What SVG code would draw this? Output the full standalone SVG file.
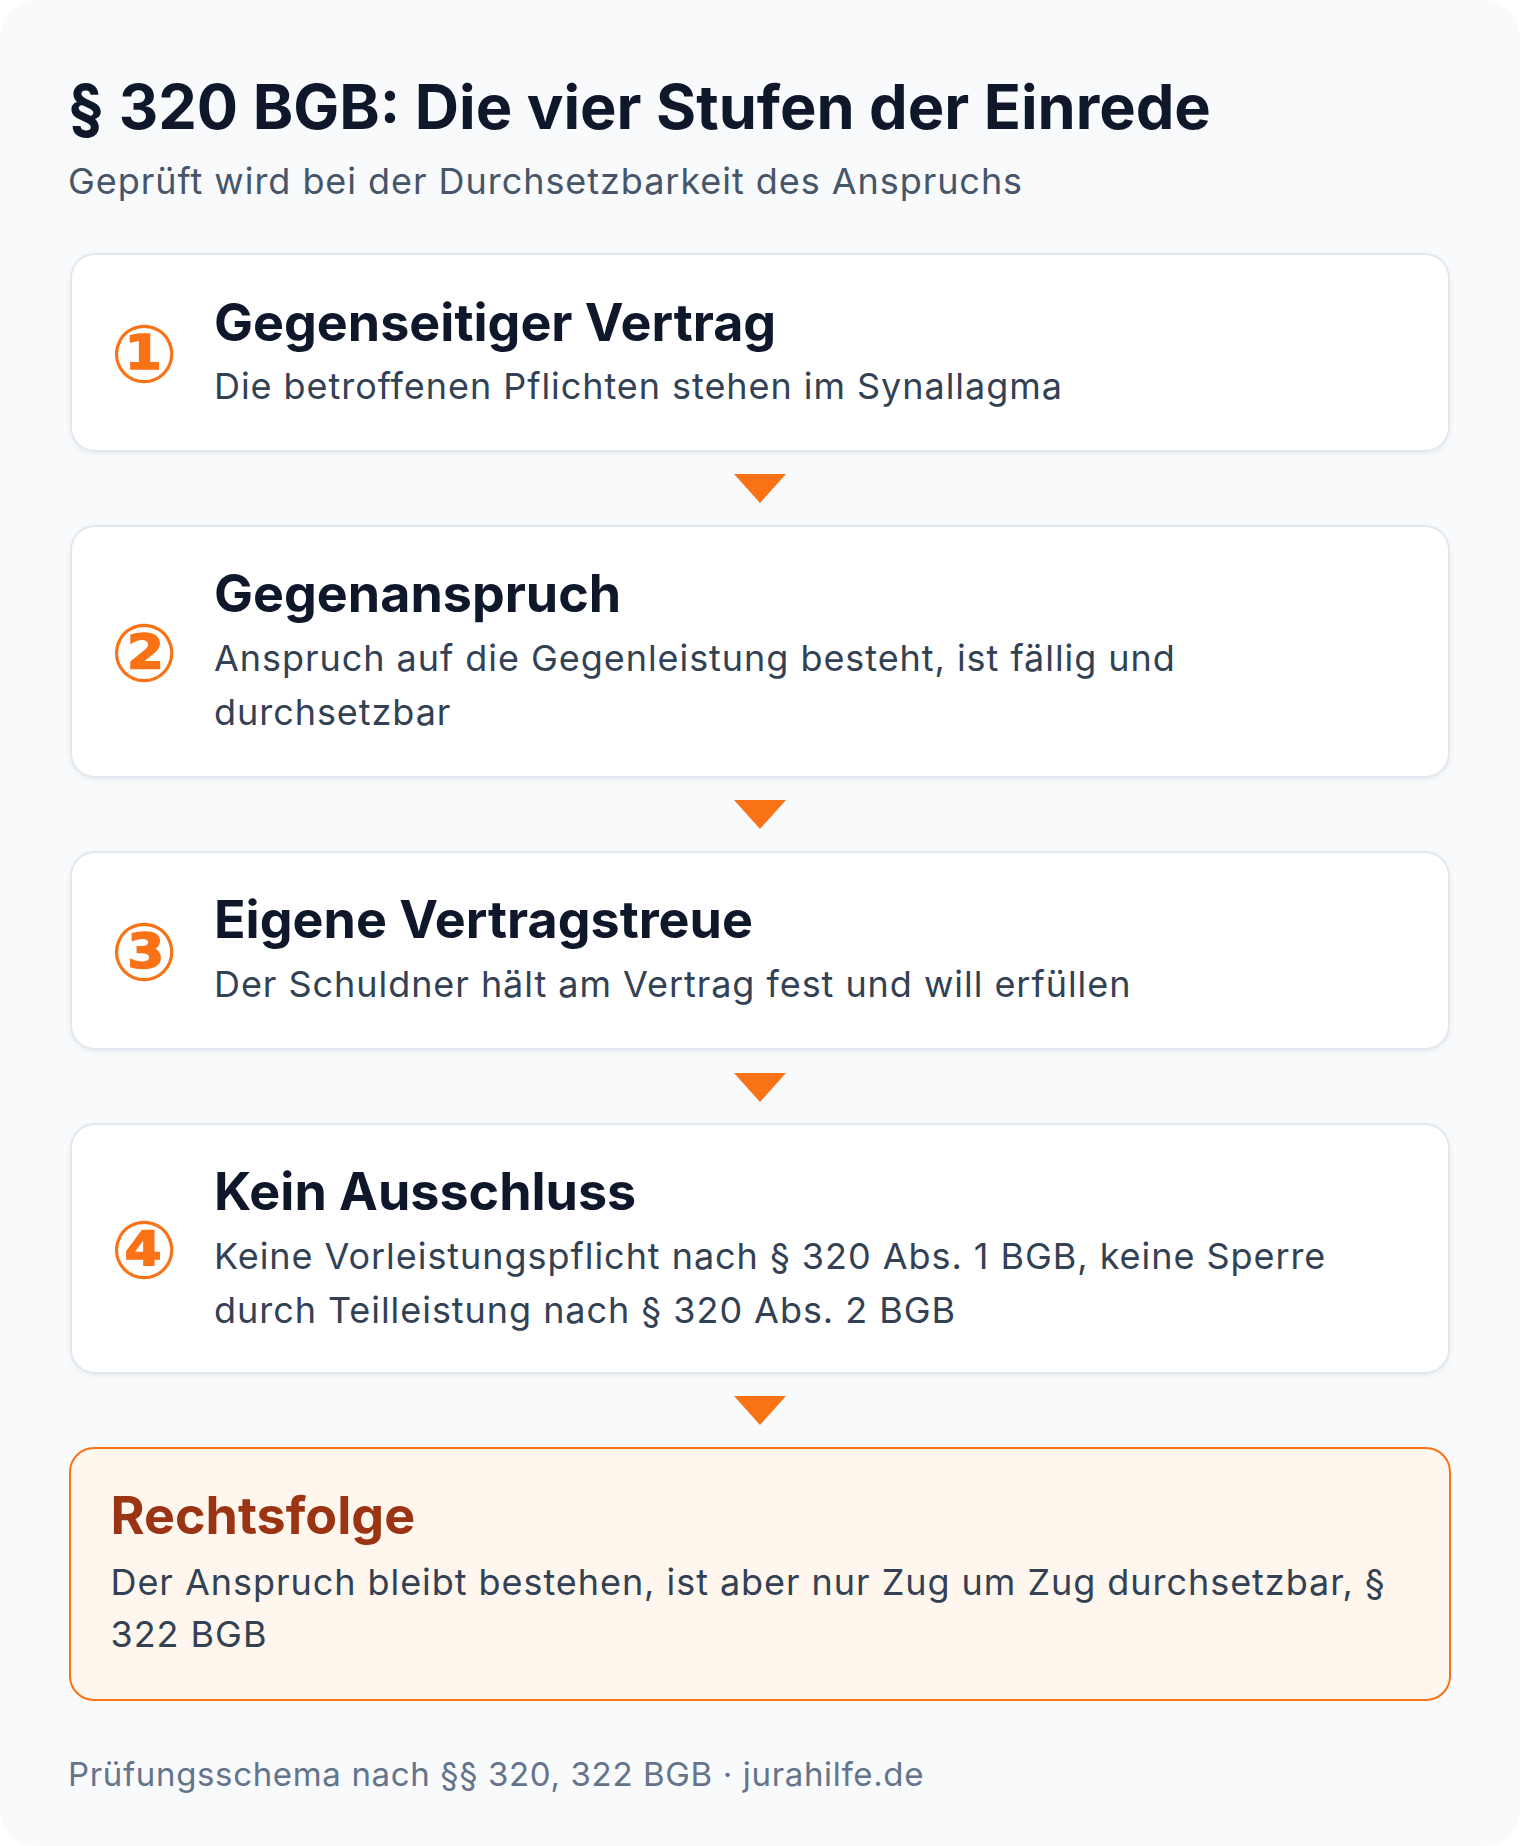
<svg xmlns="http://www.w3.org/2000/svg" width="1520" height="1846" viewBox="0 0 1520 1846">
  <style>
    .h1 { font-family: Inter, "Liberation Sans", sans-serif; font-weight: 700; font-size: 61.3px; fill: #0f172a; }
    .sub { font-family: Inter, "Liberation Sans", sans-serif; font-weight: 400; font-size: 36px; fill: #475569; letter-spacing: 0.95px; }
    .card { fill: #ffffff; stroke: #e2e8f0; stroke-width: 2; }
    .res { fill: #fff7ed; stroke: #f97316; stroke-width: 2; }
    .num { font-family: "DejaVu Sans", sans-serif; font-weight: 700; font-size: 80px; fill: #f97316; text-anchor: middle; }
    .t { font-family: Inter, "Liberation Sans", sans-serif; font-weight: 700; font-size: 52px; fill: #0f172a; }
    .rt { font-family: Inter, "Liberation Sans", sans-serif; font-weight: 700; font-size: 52px; fill: #9a3412; }
    .d { font-family: Inter, "Liberation Sans", sans-serif; font-weight: 400; font-size: 36px; fill: #334155; letter-spacing: 0.95px; }
    .foot { font-family: Inter, "Liberation Sans", sans-serif; font-weight: 400; font-size: 33px; fill: #64748b; letter-spacing: 0.65px; }
    .arrow { fill: #f97316; }
  </style>
  <defs>
    <filter id="sh" x="-5%" y="-20%" width="110%" height="140%">
      <feDropShadow dx="0" dy="2" stdDeviation="2" flood-color="#0f172a" flood-opacity="0.06"/>
    </filter>
  </defs>
  <rect x="0" y="0" width="1520" height="1846" fill="#ffffff"/>
  <rect x="0" y="0" width="1520" height="1846" rx="36" fill="#f8fafc"/>

  <g id="header">
    <text class="h1" x="68" y="129">§ 320 BGB: Die vier Stufen der Einrede</text>
    <text class="sub" x="68" y="194">Geprüft wird bei der Durchsetzbarkeit des Anspruchs</text>
  </g>

  <g id="connectors">
    <polygon class="arrow" points="734,474 786,474 760,503"/>
    <polygon class="arrow" points="734,800 786,800 760,829"/>
    <polygon class="arrow" points="734,1073 786,1073 760,1102"/>
    <polygon class="arrow" points="734,1396 786,1396 760,1425"/>
  </g>

  <g id="step1">
    <rect class="card" x="71" y="254" width="1378" height="197" rx="24" filter="url(#sh)"/>
    <text class="num" x="144" y="381.5">①</text>
    <text class="t" x="214" y="341">Gegenseitiger Vertrag</text>
    <text class="d" x="214" y="399">Die betroffenen Pflichten stehen im Synallagma</text>
  </g>

  <g id="step2">
    <rect class="card" x="71" y="526" width="1378" height="251" rx="24" filter="url(#sh)"/>
    <text class="num" x="144" y="680.5">②</text>
    <text class="t" x="214" y="612">Gegenanspruch</text>
    <text class="d" x="214" y="671">Anspruch auf die Gegenleistung besteht, ist fällig und</text>
    <text class="d" x="214" y="725">durchsetzbar</text>
  </g>

  <g id="step3">
    <rect class="card" x="71" y="852" width="1378" height="197" rx="24" filter="url(#sh)"/>
    <text class="num" x="144" y="979.5">③</text>
    <text class="t" x="214" y="938">Eigene Vertragstreue</text>
    <text class="d" x="214" y="997">Der Schuldner hält am Vertrag fest und will erfüllen</text>
  </g>

  <g id="step4">
    <rect class="card" x="71" y="1124" width="1378" height="249" rx="24" filter="url(#sh)"/>
    <text class="num" x="144" y="1277.5">④</text>
    <text class="t" x="214" y="1210">Kein Ausschluss</text>
    <text class="d" x="214" y="1269">Keine Vorleistungspflicht nach § 320 Abs. 1 BGB, keine Sperre</text>
    <text class="d" x="214" y="1323">durch Teilleistung nach § 320 Abs. 2 BGB</text>
  </g>

  <g id="result">
    <rect class="res" x="70" y="1448" width="1380" height="252" rx="24"/>
    <text class="rt" x="110.5" y="1534">Rechtsfolge</text>
    <text class="d" x="110.5" y="1595">Der Anspruch bleibt bestehen, ist aber nur Zug um Zug durchsetzbar, §</text>
    <text class="d" x="110.5" y="1647">322 BGB</text>
  </g>

  <g id="footer">
    <text class="foot" x="68" y="1786">Prüfungsschema nach §§ 320, 322 BGB · jurahilfe.de</text>
  </g>
</svg>
